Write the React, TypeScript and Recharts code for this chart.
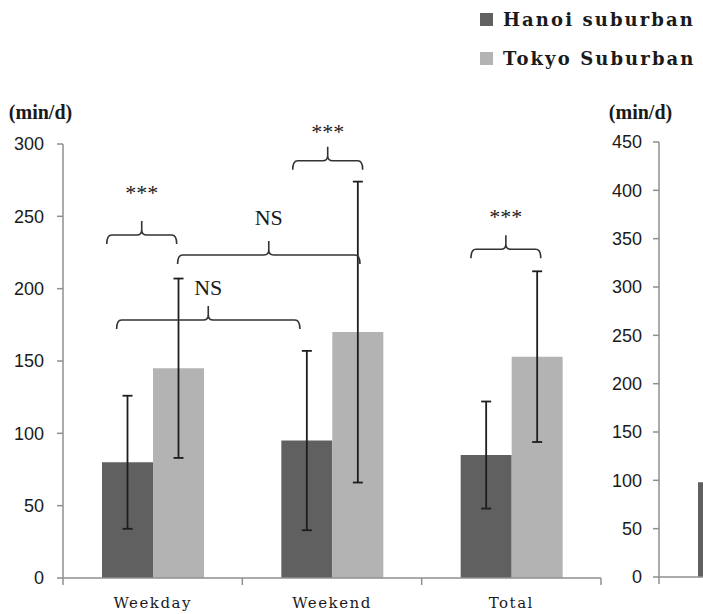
import React from 'react';
import { BarChart, Bar, XAxis, YAxis, ErrorBar, ReferenceLine, ReferenceDot, Legend } from 'recharts';

// ---- data ----
const categories = ['Weekday', 'Weekend', 'Total'];
const seriesNames = ['Hanoi suburban', 'Tokyo Suburban'];
const hanoiMeans = [80, 95, 85];
const hanoiSD = [46, 62, 37];
const tokyoMeans = [145, 170, 153];
const tokyoSD = [62, 104, 59];
const leftTicks = [0, 50, 100, 150, 200, 250, 300];

// second (cropped) panel: only the first Hanoi bar is visible
const rightHanoi: (number | null)[] = [98, null, null];
const rightTokyo: (number | null)[] = [null, null, null];
const rightTicks = [0, 50, 100, 150, 200, 250, 300, 350, 400, 450];

// significance brackets, x in category units (0..3), y in min/d
const bracketStart = [0.244, 0.639, 0.299, 1.281, 2.275];
const bracketEnd = [0.634, 1.656, 1.321, 1.671, 2.664];
const bracketLevel = [237.1, 223.3, 178.3, 288.4, 227.2];
const bracketText = ['***', 'NS', 'NS', '***', '***'];
const bracketTextLevel = [266.4, 249.2, 200.8, 309.2, 250.4];
const categoryEdges = [0, 1, 2, 3];

// ---- styles ----
const HANOI = '#606060';
const TOKYO = '#b3b3b3';
const AXIS = '#8f8f8f';
const TEXT = '#1a1a1a';

const leftData = categories.map((c, i) => ({
  cat: c,
  pos: i + 0.5,
  hanoi: hanoiMeans[i],
  hanoiErr: hanoiSD[i],
  tokyo: tokyoMeans[i],
  tokyoErr: tokyoSD[i],
}));

const rightData = categories.map((c, i) => ({
  cat: c,
  pos: i + 0.5,
  hanoi: rightHanoi[i],
  tokyo: rightTokyo[i],
}));

const BracketShape = (props: any) => {
  const { x1, x2, y1 } = props;
  if (x1 == null || x2 == null || y1 == null) return null;
  const xa = Math.min(x1, x2);
  const xb = Math.max(x1, x2);
  const y = y1;
  const xc = (xa + xb) / 2;
  const d =
    `M${xa},${y + 9} Q${xa},${y} ${xa + 5},${y} L${xc - 5},${y} Q${xc},${y} ${xc},${y - 5} L${xc},${y - 14} ` +
    `M${xc},${y - 5} Q${xc},${y} ${xc + 5},${y} L${xb - 5},${y} Q${xb},${y} ${xb},${y + 9}`;
  return <path d={d} fill="none" stroke="#333" strokeWidth={1.6} />;
};

const EdgeTick = (props: any) => {
  const { x1, y1, y2 } = props;
  if (x1 == null) return null;
  const yb = Math.max(y1, y2);
  return <line x1={x1} x2={x1} y1={yb} y2={yb + 7} stroke={AXIS} strokeWidth={1.5} />;
};

const LegendContent = (props: any) => {
  const payload = props.payload && props.payload.length ? props.payload : seriesNames.map((n, i) => ({ value: n, color: i === 0 ? HANOI : TOKYO }));
  return (
    <div style={{ fontFamily: "'DejaVu Serif', serif", fontSize: 18, fontWeight: 'bold', letterSpacing: 2.1, color: TEXT }}>
      {payload.map((p: any) => (
        <div key={p.value} style={{ display: 'flex', alignItems: 'center', height: 39 }}>
          <span style={{ display: 'inline-block', width: 13, height: 13, background: p.color, marginRight: 10 }} />
          <span style={{ lineHeight: 1, whiteSpace: 'nowrap' }}>{p.value}</span>
        </div>
      ))}
    </div>
  );
};

const yTick = { fill: TEXT, fontSize: 18, fontFamily: 'Liberation Sans' };
const xTick = { fill: TEXT, fontSize: 15, fontFamily: 'DejaVu Serif', letterSpacing: 1.5 };
const unitLabelStyle = { fill: TEXT, fontSize: 20, fontFamily: 'Liberation Serif', fontWeight: 'bold' };

export default function App() {
  return (
    <div style={{ position: 'absolute', left: 0, top: 0, width: 703, height: 614, overflow: 'hidden', background: '#fff' }}>
      <div style={{ position: 'absolute', left: 0, top: 0 }}>
        <BarChart width={620} height={614} data={leftData} margin={{ top: 144, right: 19, left: 0, bottom: 0 }} barGap={0} barSize={51}>
          <XAxis
            dataKey="cat"
            height={36}
            tickLine={false}
            tickSize={0}
            tickMargin={19}
            interval={0}
            axisLine={{ stroke: AXIS, strokeWidth: 1.5 }}
            tick={xTick}
          />
          <XAxis xAxisId="n" type="number" dataKey="pos" domain={[0, 3]} allowDataOverflow hide />
          <YAxis
            domain={[0, 300]}
            ticks={leftTicks}
            interval={0}
            width={63}
            tickSize={6}
            tickMargin={13}
            axisLine={{ stroke: AXIS, strokeWidth: 1.5 }}
            tickLine={{ stroke: AXIS, strokeWidth: 1.5 }}
            tick={yTick}
            label={{ value: '(min/d)', position: 'top', offset: 25, dx: 9, ...unitLabelStyle }}
          />
          <Legend
            layout="horizontal"
            verticalAlign="middle"
            align="center"
            content={<LegendContent />}
            wrapperStyle={{ top: 0, left: 480, width: 223 }}
          />
          <Bar dataKey="hanoi" name={seriesNames[0]} fill={HANOI} isAnimationActive={false}>
            <ErrorBar dataKey="hanoiErr" width={5} stroke="#1e1e1e" strokeWidth={1.8} isAnimationActive={false} />
          </Bar>
          <Bar dataKey="tokyo" name={seriesNames[1]} fill={TOKYO} isAnimationActive={false}>
            <ErrorBar dataKey="tokyoErr" width={5} stroke="#1e1e1e" strokeWidth={1.8} isAnimationActive={false} />
          </Bar>
          {categoryEdges.map((e) => (
            <ReferenceLine key={'edge' + e} xAxisId="n" x={e} shape={EdgeTick} ifOverflow="visible" />
          ))}
          {bracketStart.map((s, i) => (
            <ReferenceLine
              key={'br' + i}
              xAxisId="n"
              segment={[
                { x: s, y: bracketLevel[i] },
                { x: bracketEnd[i], y: bracketLevel[i] },
              ]}
              shape={BracketShape}
              ifOverflow="visible"
            />
          ))}
          {bracketStart.map((s, i) => (
            <ReferenceDot
              key={'bt' + i}
              xAxisId="n"
              x={(s + bracketEnd[i]) / 2}
              y={bracketTextLevel[i]}
              r={0}
              fill="none"
              stroke="none"
              ifOverflow="visible"
              label={{ value: bracketText[i], position: 'center', fill: TEXT, fontSize: 22, fontFamily: 'Liberation Serif' }}
            />
          ))}
        </BarChart>
      </div>
      <div style={{ position: 'absolute', left: 596, top: 0 }}>
        <BarChart width={640} height={614} data={rightData} margin={{ top: 142, right: 39, left: 0, bottom: 0 }} barGap={0} barSize={51}>
          <XAxis
            dataKey="cat"
            height={37}
            tickLine={false}
            tickSize={0}
            tick={false}
            interval={0}
            axisLine={{ stroke: AXIS, strokeWidth: 1.5 }}
          />
          <XAxis xAxisId="n" type="number" dataKey="pos" domain={[0, 3]} allowDataOverflow hide />
          <YAxis
            domain={[0, 450]}
            ticks={rightTicks}
            interval={0}
            width={63}
            tickSize={6}
            tickMargin={11}
            axisLine={{ stroke: AXIS, strokeWidth: 1.5 }}
            tickLine={{ stroke: AXIS, strokeWidth: 1.5 }}
            tick={yTick}
            label={{ value: '(min/d)', position: 'top', offset: 23, dx: 13, ...unitLabelStyle }}
          />
          <Bar dataKey="hanoi" name={seriesNames[0]} fill={HANOI} isAnimationActive={false} />
          <Bar dataKey="tokyo" name={seriesNames[1]} fill={TOKYO} isAnimationActive={false} />
          {categoryEdges.map((e) => (
            <ReferenceLine key={'redge' + e} xAxisId="n" x={e} shape={EdgeTick} ifOverflow="visible" />
          ))}
        </BarChart>
      </div>
    </div>
  );
}
